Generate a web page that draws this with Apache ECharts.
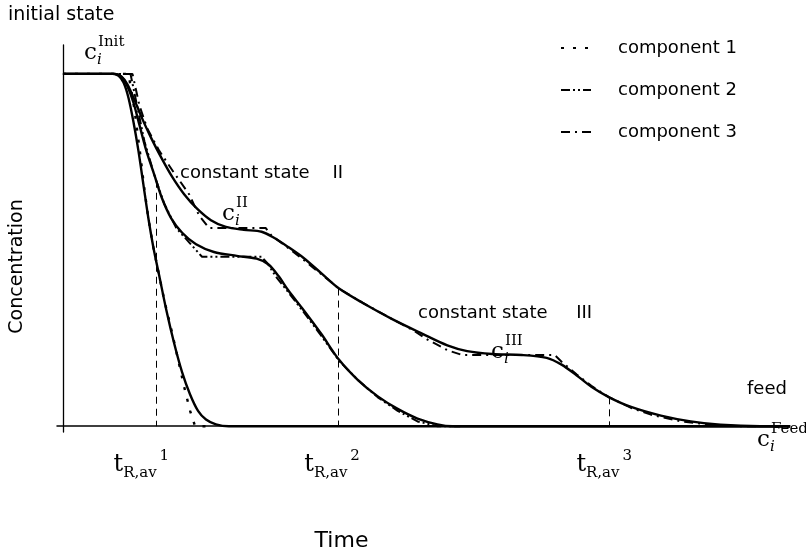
<!DOCTYPE html>
<html><head><meta charset="utf-8">
<script src="https://cdn.jsdelivr.net/npm/echarts@6/dist/echarts.min.js"></script>
<style>html,body{margin:0;padding:0;background:#fff}#c{width:806px;height:557px}</style>
</head><body><div id="c"></div>
<script>
// Time / concentration (arbitrary units)
const comp1Profile = [[0,366],[50,366],[56,364],[61,357],[66,341],[71,316],[76,286],[81,251],[86,216],[91,186],[97,156],[104,121],[112,86],[120,56],[128,33],[136,16],[144,7],[154,2],[167,0],[732,0]];
const comp1Approx  = [[0,366],[66,366],[72,329],[78,281],[82,246],[86,216],[91,186],[97,156],[102,131],[109,101],[116,69],[122,41],[128,16],[133,0],[150,0]];
const comp2Profile = [[0,366],[52,366],[59,363],[65,353],[71,336],[77,313],[84,286],[92,261],[100,236],[109,216],[120,201],[134,189],[152,181],[175,177],[195,174],[207,168],[217,156],[227,141],[242,121],[260,96],[278,69],[297,48],[317,31],[337,18],[357,8],[377,2],[392,0],[732,0]];
const comp2Approx  = [[0,366],[68,366],[75,331],[82,296],[92,261],[102,231],[114,206],[127,191],[140,176],[200,176],[206,169],[214,156],[227,139],[242,119],[260,94],[278,68],[297,48],[317,30],[337,16],[357,5],[377,0],[400,0]];
const comp3Profile = [[0,366],[52,366],[59,363],[65,355],[72,339],[80,319],[89,299],[99,279],[110,259],[122,241],[135,226],[149,214],[164,207],[182,204],[200,202],[212,196],[227,186],[242,175],[260,159],[278,143],[302,128],[332,111],[362,96],[387,84],[407,78],[432,75],[462,74],[487,71],[502,64],[517,53],[532,41],[550,30],[572,20],[602,11],[632,5],[662,1.5],[702,0],[732,0]];
const comp3Approx  = [[0,366],[70,366],[77,333],[85,309],[97,286],[112,263],[127,241],[137,219],[147,206],[204,206],[210,198],[222,189],[242,173],[278,143],[302,128],[332,111],[352,100],[367,90],[387,79],[402,74],[495,74],[502,67],[517,54],[532,42],[550,30],[572,19],[592,12],[622,5],[652,1.5],[682,0],[700,0]];

const seriesNames = ['component 1','component 2','component 3'];
const tRTimes  = [94, 277, 550];
const tRTops   = [255, 143, 30];
const tRLabels = ['1','2','3'];

const SANS = '"DejaVu Sans", "Liberation Sans", sans-serif';
const SERIF = '"DejaVu Serif", "Liberation Serif", serif';

// per-label horizontal nudges (layout only)
const labelPad = [[0,30,16,3],[0,12,16,3],[0,10,16,3]];

const chart = echarts.init(document.getElementById('c'), null, {renderer:'canvas'});

function solid(name, data){
  return {name, type:'line', data, symbol:'none', smooth:0.3, z:5,
    lineStyle:{color:'#000', width:2.4}, silent:true};
}
function approx(name, data, dash, w){
  return {name, type:'line', data, symbol:'none', smooth:false, z:3,
    itemStyle:{color:'#000'},
    lineStyle:{color:'#000', width:w, type:dash}, silent:true};
}
function cLabel(x, y, sup){
  return {type:'group', x, y, silent:true, children:[
    {type:'text', x:0, y:0, style:{text:'c', font:'23px ' + SERIF, fill:'#000', align:'left', verticalAlign:'middle'}},
    {type:'text', x:13, y:7, style:{text:'i', font:'italic 15px ' + SERIF, fill:'#000', align:'left', verticalAlign:'middle'}},
    {type:'text', x:14, y:-11, style:{text:sup, font:'15px ' + SERIF, fill:'#000', align:'left', verticalAlign:'middle'}}
  ]};
}
function sansText(x, y, text, size){
  return {type:'text', x, y, silent:true, style:{text, font:(size||18) + 'px ' + SANS, fill:'#000', align:'left', verticalAlign:'middle'}};
}

const richT = {};
labelPad.forEach((p, i) => {
  richT['t' + i] = {fontFamily:SERIF, fontSize:24, color:'#000'};
  richT['sub' + i] = {fontFamily:SERIF, fontSize:15, color:'#000', padding:[18,0,0,0]};
  richT['sup' + i] = {fontFamily:SERIF, fontSize:15, color:'#000', padding:p};
});

const option = {
  animation:false,
  backgroundColor:'#fff',
  textStyle:{fontFamily:SANS, color:'#000'},
  grid:{left:52, right:16, top:45, bottom:110, containLabel:false},
  legend:{
    data:seriesNames, orient:'vertical', left:555, top:33,
    itemWidth:30, itemHeight:20, itemGap:22,
    itemStyle:{opacity:0},
    textStyle:{fontFamily:SANS, fontSize:18, color:'#000', lineHeight:20, padding:[0,0,0,22]},
    selectedMode:false
  },
  xAxis:{
    type:'value', min:-6, max:732,
    name:'Time', nameLocation:'middle', nameGap:98,
    nameTextStyle:{fontFamily:SANS, fontSize:22, color:'#000', padding:[0,164,0,0]},
    axisLine:{show:true, onZero:true, lineStyle:{color:'#000', width:1.5}},
    axisTick:{show:false}, splitLine:{show:false},
    axisLabel:{
      show:true, customValues:tRTimes, margin:16,
      formatter:(v)=>{ const i = tRTimes.indexOf(v); return '{t' + i + '|t}{sub' + i + '|R,av}{sup' + i + '|' + tRLabels[i] + '}'; },
      rich:richT
    }
  },
  yAxis:{
    type:'value', min:-6, max:396,
    name:'Concentration', nameLocation:'middle', nameGap:30,
    nameTextStyle:{fontFamily:SANS, fontSize:19, color:'#000', padding:[0,56,0,0]},
    axisLine:{show:true, onZero:true, lineStyle:{color:'#000', width:1.3}},
    axisTick:{show:false}, axisLabel:{show:false}, splitLine:{show:false}
  },
  series:[
    approx(seriesNames[0], comp1Approx, [3,9], 2.4),
    approx(seriesNames[1], comp2Approx, [9,3,2,3,2,3], 2),
    approx(seriesNames[2], comp3Approx, [9,5,2,5], 2),
    solid('profile 1', comp1Profile),
    solid('profile 2', comp2Profile),
    Object.assign(solid('profile 3', comp3Profile), {
      markLine:{silent:true, symbol:['none','none'], label:{show:false},
        lineStyle:{type:[7,5], color:'#000', width:1},
        emphasis:{disabled:true},
        data:tRTimes.map((t,i)=>[{coord:[t, tRTops[i]]},{coord:[t, 0]}])}
    })
  ],
  graphic:[
    sansText(8, 15, 'initial state', 19),
    sansText(180, 173, 'constant state    II'),
    sansText(418, 313, 'constant state     III'),
    sansText(747, 389, 'feed'),
    cLabel(84, 53, 'Init'),
    cLabel(222, 214, 'II'),
    cLabel(491, 352, 'III'),
    cLabel(757, 440, 'Feed')
  ]
};
chart.setOption(option);
</script>
</body></html>
